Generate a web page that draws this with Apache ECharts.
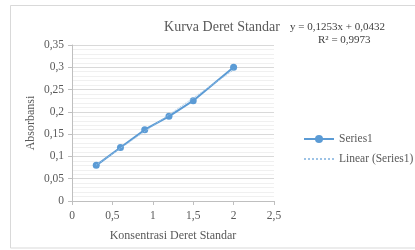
<!DOCTYPE html>
<html>
<head>
<meta charset="utf-8">
<script src="https://cdn.jsdelivr.net/npm/echarts@6/dist/echarts.min.js"></script>
<style>
  html, body { margin: 0; padding: 0; background: #fff; }
  #chart { width: 415px; height: 250px; }
</style>
</head>
<body>
<div id="chart"></div>
<script>
// data points
var konsentrasi = [0.3, 0.6, 0.9, 1.2, 1.5, 2.0];
var absorbansi = [0.08, 0.12, 0.16, 0.19, 0.225, 0.3];
// linear trendline end points (y = 0,1253x + 0,0432)
var trendX = [0.3, 2.0];
var trendY = [0.0808, 0.2938];
var yTicks = ['0', '0,05', '0,1', '0,15', '0,2', '0,25', '0,3', '0,35'];

var font = 'Liberation Serif';
var grey = '#595959';

function fmt(v) {
    return String(Math.round(v * 100) / 100).replace('.', ',');
}

var chart = echarts.init(document.getElementById('chart'), null, { renderer: 'canvas' });
chart.setOption({
    animation: false,
    backgroundColor: '#fff',
    grid: { left: 72, right: 141, top: 45, bottom: 49 },
    title: {
        text: 'Kurva Deret Standar',
        left: 217, top: 15, textAlign: 'center',
        textStyle: { fontFamily: font, fontSize: 14, fontWeight: 'normal', color: grey }
    },
    graphic: [
        { type: 'rect', shape: { x: 10.5, y: 5.5, width: 410, height: 242.5 }, style: { fill: 'none', stroke: '#d9d9d9', lineWidth: 1 } },
        { type: 'text', left: 290, top: 22, style: { text: 'y = 0,1253x + 0,0432', font: '11px ' + font, fill: '#404040' } },
        { type: 'text', left: 318, top: 35, style: { text: 'R² = 0,9973', font: '11px ' + font, fill: '#404040' } }
    ],
    legend: {
        left: 298, top: 128, orient: 'vertical', itemGap: 8,
        itemWidth: 30, itemHeight: 10,
        textStyle: { fontFamily: font, fontSize: 11.5, color: grey },
        data: [
            { name: 'Series1' },
            { name: 'Linear (Series1)', itemStyle: { opacity: 0 } }
        ]
    },
    xAxis: {
        type: 'value', min: 0, max: 2.5, interval: 0.5,
        name: 'Konsentrasi Deret Standar', nameLocation: 'middle', nameGap: 29,
        nameTextStyle: { fontFamily: font, fontSize: 12, color: grey },
        axisLine: { lineStyle: { color: '#bfbfbf' } },
        axisTick: { show: true, length: 4, lineStyle: { color: '#bfbfbf' } },
        axisLabel: { fontFamily: font, fontSize: 11.5, color: grey, margin: 9, formatter: fmt },
        splitLine: { show: false }
    },
    yAxis: {
        type: 'value', min: 0, max: 0.35, interval: 0.05,
        name: 'Absorbansi', nameLocation: 'middle', nameGap: 35,
        nameTextStyle: { fontFamily: font, fontSize: 12, color: grey },
        axisLine: { show: true, lineStyle: { color: '#bfbfbf' } },
        axisTick: { show: true, length: 4, lineStyle: { color: '#bfbfbf' } },
        axisLabel: { fontFamily: font, fontSize: 11.5, color: grey, margin: 8,
            formatter: function (v) { return yTicks[Math.round(v / 0.05)]; } },
        splitLine: { show: true, lineStyle: { color: '#d9d9d9' } },
        minorTick: { show: false, splitNumber: 5 },
        minorSplitLine: { show: true, lineStyle: { color: '#f0f0f0' } }
    },
    series: [
        {
            name: 'Series1', type: 'line',
            data: konsentrasi.map(function (x, i) { return [x, absorbansi[i]]; }),
            symbol: 'circle', symbolSize: 7, z: 2,
            itemStyle: { color: '#5b9bd5' },
            lineStyle: { color: '#5b9bd5', width: 2 }
        },
        {
            name: 'Linear (Series1)', type: 'line',
            data: trendX.map(function (x, i) { return [x, trendY[i]]; }),
            symbol: 'none', z: 3,
            itemStyle: { color: '#9dc3e6' },
            lineStyle: { color: '#9dc3e6', width: 1, type: 'dotted' }
        }
    ]
});
</script>
</body>
</html>
